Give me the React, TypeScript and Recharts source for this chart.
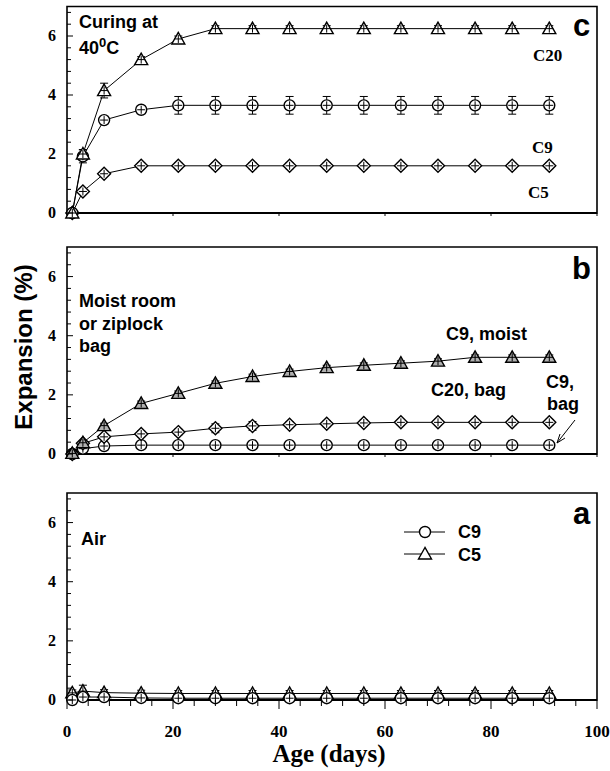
import React from "react";
import { LineChart, Line, XAxis, YAxis, ErrorBar, ReferenceArea } from "recharts";

// age in days, shared by every panel
const ages = [1, 3, 7, 14, 21, 28, 35, 42, 49, 56, 63, 70, 77, 84, 91];

// panel c: curing at 40 C
const cC20 = [0, 2.0, 4.15, 5.2, 5.9, 6.25, 6.25, 6.25, 6.25, 6.25, 6.25, 6.25, 6.25, 6.25, 6.25];
const cC20Err = [0, 0.15, 0.25, 0.1, 0.1, 0.1, 0.1, 0.1, 0.1, 0.1, 0.1, 0.1, 0.1, 0.1, 0.1];
const cC9 = [0, 1.92, 3.15, 3.5, 3.65, 3.65, 3.65, 3.65, 3.65, 3.65, 3.65, 3.65, 3.65, 3.65, 3.65];
const cC9Err = [0, 0.22, 0.1, 0.1, 0.3, 0.3, 0.3, 0.3, 0.3, 0.3, 0.3, 0.3, 0.3, 0.3, 0.3];
const cC5 = [0, 0.73, 1.33, 1.6, 1.6, 1.6, 1.6, 1.6, 1.6, 1.6, 1.6, 1.6, 1.6, 1.6, 1.6];
const cC5Err = [0, 0.1, 0.08, 0.1, 0.1, 0.1, 0.1, 0.1, 0.1, 0.1, 0.1, 0.1, 0.1, 0.1, 0.1];

// panel b: moist room or ziplock bag
const bMoist = [0.02, 0.38, 0.96, 1.71, 2.05, 2.39, 2.62, 2.79, 2.92, 3.0, 3.07, 3.14, 3.27, 3.27, 3.27];
const bMoistErr = [0, 0.05, 0.08, 0.08, 0.08, 0.08, 0.08, 0.08, 0.08, 0.08, 0.08, 0.08, 0.08, 0.08, 0.08];
const bC20Bag = [0, 0.36, 0.58, 0.68, 0.74, 0.87, 0.95, 0.99, 1.02, 1.05, 1.07, 1.07, 1.07, 1.07, 1.07];
const bC20BagErr = [0, 0.05, 0.1, 0.1, 0.1, 0.15, 0.15, 0.1, 0.1, 0.1, 0.1, 0.1, 0.1, 0.1, 0.1];
const bC9Bag = [0, 0.18, 0.27, 0.3, 0.3, 0.3, 0.3, 0.3, 0.3, 0.3, 0.3, 0.3, 0.3, 0.3, 0.3];
const bC9BagErr = [0, 0.05, 0.1, 0.1, 0.1, 0.1, 0.1, 0.1, 0.1, 0.1, 0.1, 0.1, 0.1, 0.1, 0.1];

// panel a: air
const aC9 = [0, 0.1, 0.1, 0.07, 0.06, 0.06, 0.06, 0.06, 0.06, 0.06, 0.06, 0.06, 0.06, 0.06, 0.06];
const aC9Err = [0, 0.05, 0.05, 0.05, 0.05, 0.05, 0.05, 0.05, 0.05, 0.05, 0.05, 0.05, 0.05, 0.05, 0.05];
const aC5 = [0.24, 0.3, 0.25, 0.23, 0.22, 0.22, 0.22, 0.22, 0.22, 0.22, 0.22, 0.22, 0.22, 0.22, 0.22];
const aC5Err = [0.1, 0.2, 0.1, 0.1, 0.1, 0.1, 0.1, 0.1, 0.1, 0.1, 0.1, 0.1, 0.1, 0.1, 0.1];

const yTicks = [0, 0.4, 0.8, 1.2, 1.6, 2, 2.4, 2.8, 3.2, 3.6, 4, 4.4, 4.8, 5.2, 5.6, 6, 6.4, 6.8];
const yLabels = [0, 2, 4, 6];
const xMinorTicks = [0, 4, 8, 12, 16, 20, 24, 28, 32, 36, 40, 44, 48, 52, 56, 60, 64, 68, 72, 76, 80, 84, 88, 92, 96, 100];
const xMajorTicks = [0, 20, 40, 60, 80, 100];

const serif = "'Liberation Serif', 'Times New Roman', serif";
const sans = "'Liberation Sans', Arial, sans-serif";
const PLOT_LEFT = 67;
const PLOT_RIGHT = 597;

const table = (s: Record<string, number[]>) =>
  ages.map((age, i) => {
    const row: any = { age };
    Object.keys(s).forEach((k) => (row[k] = s[k][i]));
    return row;
  });

const cData = table({ c20: cC20, c20e: cC20Err, c9: cC9, c9e: cC9Err, c5: cC5, c5e: cC5Err });
const bData = table({ moist: bMoist, moiste: bMoistErr, c20: bC20Bag, c20e: bC20BagErr, c9: bC9Bag, c9e: bC9BagErr });
const aData = table({ c9: aC9, c9e: aC9Err, c5: aC5, c5e: aC5Err });

function Marker({ cx, cy, shape, fill }: any) {
  if (cx == null || cy == null) return null;
  let body;
  if (shape === "circle") body = <circle cx={cx} cy={cy} r={5.5} />;
  else if (shape === "tri")
    body = <polygon points={`${cx},${cy - 6.5} ${cx - 6.5},${cy + 5} ${cx + 6.5},${cy + 5}`} />;
  else body = <polygon points={`${cx},${cy - 6.5} ${cx + 6.5},${cy} ${cx},${cy + 6.5} ${cx - 6.5},${cy}`} />;
  return (
    <g stroke="#000" strokeWidth={1.4} fill={fill}>
      {body}
      <line x1={cx - 4} x2={cx + 4} y1={cy} y2={cy} strokeWidth={1} />
      <line x1={cx} x2={cx} y1={cy - 4} y2={cy + 4} strokeWidth={1} />
    </g>
  );
}

const dotOf = (shape: string, fill = "#fff") => (p: any) =>
  <Marker key={`m-${shape}-${p.index}`} cx={p.cx} cy={p.cy} shape={shape} fill={fill} />;

const YTickLeft = (p: any) => {
  const v = p.payload.value;
  const major = yLabels.includes(v);
  return (
    <g>
      <line x1={PLOT_LEFT} x2={PLOT_LEFT + (major ? 6 : 4)} y1={p.y} y2={p.y} stroke="#000" strokeWidth={1} />
      {major && (
        <text x={56} y={p.y + 5} textAnchor="end" fontFamily={serif} fontWeight="bold" fontSize={16} fill="#000">
          {v}
        </text>
      )}
    </g>
  );
};

const YTickRight = (p: any) => {
  const major = yLabels.includes(p.payload.value);
  return <line x1={PLOT_RIGHT} x2={PLOT_RIGHT - (major ? 6 : 4)} y1={p.y} y2={p.y} stroke="#000" strokeWidth={1} />;
};

const XTickSmall = (p: any) => (
  <line x1={p.x} x2={p.x} y1={p.y} y2={p.y + 3} stroke="#000" strokeWidth={1} />
);

const XTickFull = (p: any) => {
  const v = p.payload.value;
  const major = xMajorTicks.includes(v);
  return (
    <g>
      <line x1={p.x} x2={p.x} y1={p.y} y2={p.y + (major ? 9 : 6)} stroke="#000" strokeWidth={1} />
      {major && (
        <text x={p.x} y={p.y + 37} textAnchor="middle" fontFamily={serif} fontWeight="bold" fontSize={17} fill="#000">
          {v}
        </text>
      )}
    </g>
  );
};

function Panel({ data, height, top, marginTop, xHeight, full, children }: any) {
  return (
    <div style={{ position: "absolute", left: 0, top }}>
      <LineChart width={610} height={height} data={data} margin={{ top: marginTop, right: 0, left: 0, bottom: 0 }}>
        <XAxis
          dataKey="age"
          type="number"
          domain={[0, 100]}
          ticks={full ? xMinorTicks : xMajorTicks}
          interval={0}
          height={xHeight}
          tickSize={0}
          tickMargin={0}
          tick={full ? <XTickFull /> : <XTickSmall />}
          axisLine={{ stroke: "#000", strokeWidth: 2 }}
        />
        <YAxis
          type="number"
          domain={[0, 7]}
          ticks={yTicks}
          interval={0}
          width={PLOT_LEFT}
          tickSize={0}
          tickMargin={0}
          tick={<YTickLeft />}
          axisLine={false}
        />
        <YAxis
          yAxisId="r"
          orientation="right"
          type="number"
          domain={[0, 7]}
          ticks={yTicks}
          interval={0}
          width={610 - PLOT_RIGHT}
          tickSize={0}
          tickMargin={0}
          tick={<YTickRight />}
          axisLine={false}
        />
        <ReferenceArea x1={0} x2={100} y1={0} y2={7} fill="none" stroke="#000" strokeWidth={1.6} ifOverflow="visible" />
        {children}
      </LineChart>
    </div>
  );
}

const series = (key: string, errKey: string, shape: string, fill = "#fff") => (
  <Line
    key={key}
    dataKey={key}
    type="linear"
    stroke="#000"
    strokeWidth={1}
    dot={dotOf(shape, fill)}
    activeDot={false}
    isAnimationActive={false}
  >
    <ErrorBar dataKey={errKey} width={4} stroke="#000" strokeWidth={1} direction="y" />
  </Line>
);

export default function App() {
  return (
    <div style={{ position: "absolute", left: 0, top: 0, width: 610, height: 771, background: "#fff", overflow: "hidden" }}>
      <Panel data={cData} top={0} height={230} marginTop={6.5} xHeight={17}>
        {series("c5", "c5e", "diamond")}
        {series("c9", "c9e", "circle")}
        {series("c20", "c20e", "tri")}
      </Panel>
      <Panel data={bData} top={240} height={231} marginTop={7} xHeight={17}>
        {series("c9", "c9e", "circle")}
        {series("c20", "c20e", "diamond")}
        {series("moist", "moiste", "tri", "#b0b0b0")}
      </Panel>
      <Panel data={aData} top={480} height={291} marginTop={13} xHeight={71} full>
        {series("c5", "c5e", "tri")}
        {series("c9", "c9e", "circle")}
      </Panel>

      <svg width={610} height={771} style={{ position: "absolute", left: 0, top: 0, pointerEvents: "none" }}>
        <g fontFamily={sans} fontWeight="bold" fill="#000">
          <text x={79} y={28} fontSize={18}>Curing at</text>
          <text x={79} y={54} fontSize={18}>
            40<tspan dy={-7} fontSize={13}>0</tspan><tspan dy={7}>C</tspan>
          </text>
          <text x={573} y={36} fontSize={31}>c</text>

          <text x={79} y={307} fontSize={18}>Moist room</text>
          <text x={79} y={330} fontSize={18}>or ziplock</text>
          <text x={79} y={352} fontSize={18}>bag</text>
          <text x={572} y={279} fontSize={31}>b</text>
          <text x={446} y={340} fontSize={18}>C9, moist</text>
          <text x={431} y={396} fontSize={18}>C20, bag</text>
          <text x={546} y={388} fontSize={18}>C9,</text>
          <text x={547} y={410} fontSize={18}>bag</text>

          <text x={81} y={545} fontSize={18}>Air</text>
          <text x={573} y={524} fontSize={31}>a</text>
          <text x={458} y={538} fontSize={18}>C9</text>
          <text x={458} y={561} fontSize={18}>C5</text>

          <text transform="translate(32,347) rotate(-90)" textAnchor="middle" fontSize={24}>Expansion (%)</text>
        </g>
        <g fontFamily={serif} fontWeight="bold" fill="#000">
          <text x={533} y={61} fontSize={17}>C20</text>
          <text x={532} y={153} fontSize={17}>C9</text>
          <text x={528} y={198} fontSize={17}>C5</text>
          <text x={329} y={762} textAnchor="middle" fontSize={25}>Age (days)</text>
        </g>
        <g stroke="#000" strokeWidth={1} fill="none">
          <line x1={575} y1={420} x2={557} y2={443} />
          <line x1={557} y1={443} x2={560} y2={434} />
          <line x1={557} y1={443} x2={565} y2={438} />
          <line x1={404} y1={532} x2={445} y2={532} />
          <line x1={404} y1={554} x2={445} y2={554} />
        </g>
        <circle cx={425} cy={532} r={5.5} fill="#fff" stroke="#000" strokeWidth={1.4} />
        <polygon points="425,547.5 418.5,559 431.5,559" fill="#fff" stroke="#000" strokeWidth={1.4} />
      </svg>
    </div>
  );
}
